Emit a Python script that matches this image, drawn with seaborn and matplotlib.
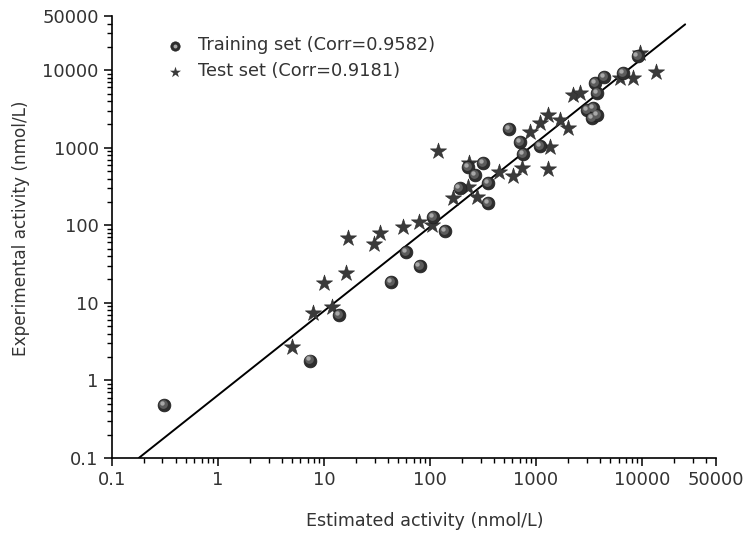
import numpy as np
import pandas as pd
import matplotlib
matplotlib.use("Agg")
import matplotlib.pyplot as plt
import matplotlib.transforms as mtransforms
from matplotlib.legend_handler import HandlerTuple
import seaborn as sns

# training set (spheres): estimated vs experimental activity, nmol/L
train_est = [0.31, 7.4, 14, 43, 80, 60, 139, 107, 190, 352, 352, 266, 228, 316,
             556, 707, 1090, 753, 3030, 3450, 3380, 3760, 3760, 3600, 4380, 6620, 9100]
train_exp = [0.48, 1.8, 7.0, 18.5, 29.5, 45, 84, 128, 300, 193, 350, 444, 560, 630,
             1750, 1180, 1050, 828, 3060, 3240, 2400, 2630, 5040, 6760, 8130, 9150, 15300]

# test set (stars)
test_est = [5.0, 7.9, 12, 10, 16, 16.8, 29.5, 34, 56, 79, 105, 120, 165, 228, 277,
            235, 450, 607, 738, 1300, 877, 1355, 1090, 1300, 1680, 2000, 2230, 2600,
            6200, 8220, 13550, 9570]
test_exp = [2.7, 7.4, 8.8, 18, 24, 68, 57, 79, 95, 110, 100, 900, 225, 310, 231,
            630, 480, 430, 545, 530, 1580, 1020, 2075, 2630, 2270, 1790, 4760, 5040,
            7890, 7940, 9420, 16560]

# fitted line end points
line_x = [0.18, 25500]
line_y = [0.1, 39000]

ticks = [0.1, 1, 10, 100, 1000, 10000, 50000]
tick_labels = ["0.1", "1", "10", "100", "1000", "10000", "50000"]

train = pd.DataFrame({"est": train_est, "exp": train_exp})
test = pd.DataFrame({"est": test_est, "exp": test_exp})

sns.set_style("ticks")
plt.rcParams["font.family"] = ["DejaVu Sans"]

fig = plt.figure(figsize=(7.46, 5.33), dpi=100)
ax = fig.add_axes([0.150, 0.141, 0.810, 0.829])

ax.set_xscale("log")
ax.set_yscale("log")

sns.lineplot(x=line_x, y=line_y, color="black", linewidth=1.4, ax=ax)

sns.scatterplot(data=test, x="est", y="exp", marker="*", s=150,
                color="#3a3a3a", edgecolor="#2a2a2a", linewidth=0.4,
                ax=ax, zorder=3)

# spheres: dark base plus two lighter layers shifted up-left
ax.scatter(train["est"], train["exp"], s=85, color="#2e2e2e",
           edgecolor="#1e1e1e", linewidth=0.5, zorder=4)
shade = mtransforms.offset_copy(ax.transData, fig=fig, x=-0.8, y=0.8, units="points")
ax.scatter(train["est"], train["exp"], s=40, color="#5c5c5c",
           linewidth=0, transform=shade, zorder=5)
hl = mtransforms.offset_copy(ax.transData, fig=fig, x=-1.6, y=1.6, units="points")
ax.scatter(train["est"], train["exp"], s=10, color="#a8a8a8",
           linewidth=0, transform=hl, zorder=6)

ax.set_xlim(0.1, 50000)
ax.set_ylim(0.1, 50000)

ax.set_xticks(ticks)
ax.set_xticklabels(tick_labels)
ax.set_yticks(ticks)
ax.set_yticklabels(tick_labels)
ax.xaxis.set_minor_locator(matplotlib.ticker.LogLocator(base=10, subs=np.arange(2, 10)))
ax.yaxis.set_minor_locator(matplotlib.ticker.LogLocator(base=10, subs=np.arange(2, 10)))
ax.xaxis.set_minor_formatter(matplotlib.ticker.NullFormatter())
ax.yaxis.set_minor_formatter(matplotlib.ticker.NullFormatter())

ax.tick_params(which="major", direction="out", length=6, width=1.1,
               labelsize=13, colors="black", labelcolor="#333333")
ax.tick_params(which="minor", direction="out", length=3.5, width=1.0, colors="black")

sns.despine(ax=ax)
for sp in ["left", "bottom"]:
    ax.spines[sp].set_linewidth(1.2)
    ax.spines[sp].set_color("black")

ax.set_xlabel("Estimated activity (nmol/L)", fontsize=12.6, color="#333333")
ax.set_ylabel("Experimental activity (nmol/L)", fontsize=12.2, color="#333333")
ax.xaxis.set_label_coords(0.517, -0.122)
ax.yaxis.set_label_coords(-0.135, 0.52)

leg_sphere = ax.scatter([], [], s=45, color="#2e2e2e", edgecolor="#1e1e1e", linewidth=0.5)
leg_hl = ax.scatter([], [], s=8, color="#a8a8a8", linewidth=0)
leg_star = ax.scatter([], [], marker="*", s=70, color="#3a3a3a", linewidth=0)
ax.legend([(leg_sphere, leg_hl), leg_star],
          ["Training set (Corr=0.9582)", "Test set (Corr=0.9181)"],
          handler_map={tuple: HandlerTuple(ndivide=1, pad=0)},
          loc="upper left", bbox_to_anchor=(0.06, 0.99), frameon=False,
          fontsize=12.8, handlelength=1.2, handletextpad=0.7, labelspacing=0.45,
          labelcolor="#333333")

fig.savefig("out.png", dpi=100)
